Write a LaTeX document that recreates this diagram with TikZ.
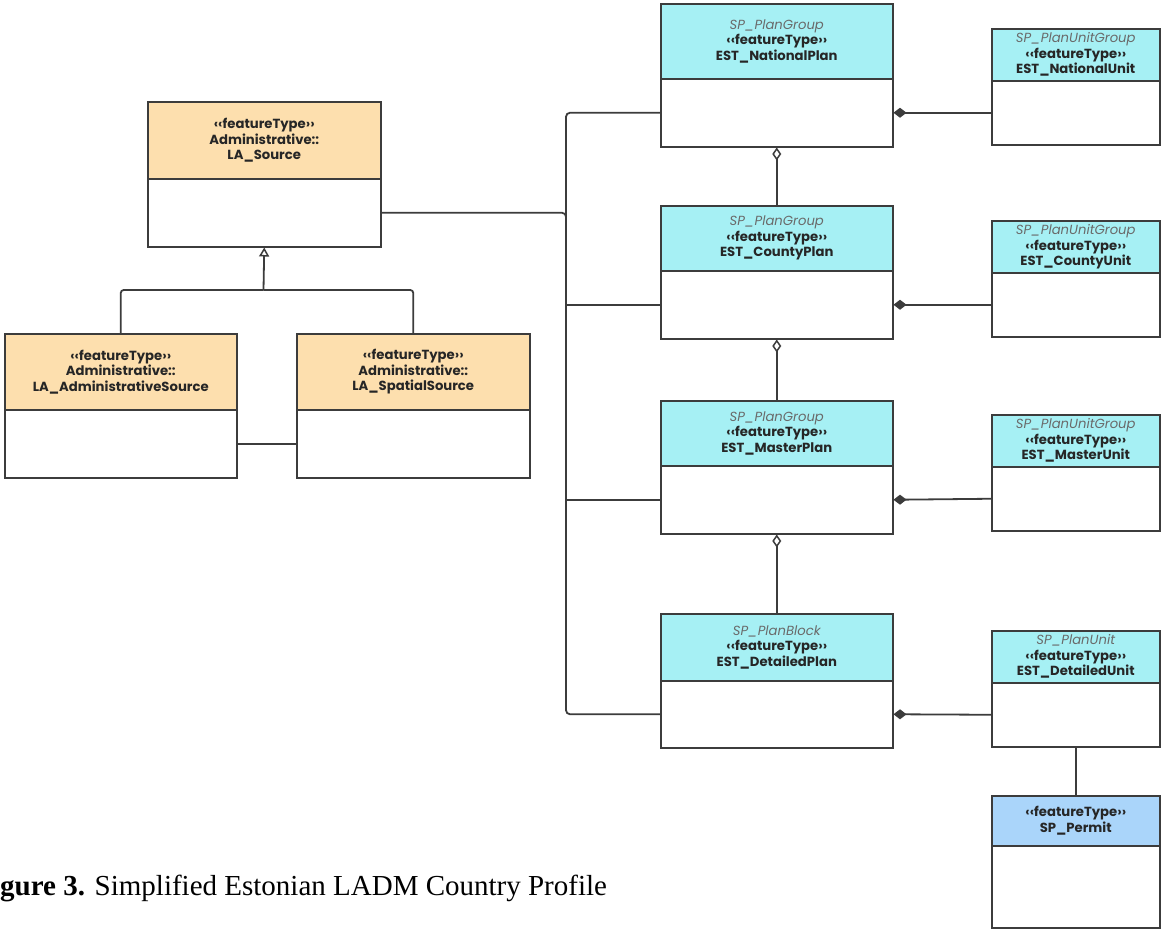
\documentclass[tikz,border=0pt]{standalone}
\usepackage{fontspec}
\setmainfont{Poppins}
\newfontfamily\captfont{Liberation Serif}
\usetikzlibrary{arrows.meta,calc}
\definecolor{linec}{HTML}{3C3C3C}
\definecolor{orangeh}{HTML}{FDDFAE}
\definecolor{cyanh}{HTML}{A6F0F4}
\definecolor{blueh}{HTML}{AAD5FA}
\definecolor{stereo}{HTML}{6A6A6A}
\newcommand{\umlfont}{\fontsize{13.2}{15.5}\selectfont\bfseries\color{black!85}}
\newcommand{\ster}[1]{{\mdseries\itshape\color{stereo}#1}}
\newcommand{\ft}{‹‹featureType››}
\newcommand{\umlbox}[8]{%
  \node[hdr, fill=#7, minimum width={(#5-#2)*1pt}, minimum height={(#4-#3)*1pt}, anchor=north west] (#1-h) at (#2,#3) {#8};
  \node[bdy, minimum width={(#5-#2)*1pt}, minimum height={(#6-#4)*1pt}, anchor=north west] (#1-b) at (#2,#4) {};
}
\tikzset{
  hdr/.style={draw=linec, line width=1.5pt, inner sep=0pt, align=center, font=\umlfont},
  bdy/.style={draw=linec, line width=1.5pt, fill=white, inner sep=0pt},
  conn/.style={draw=linec, line width=1.8pt},
  gen/.style={conn, -{Triangle[open, length=9pt, width=10pt, line width=1.5pt]}},
  agg/.style={conn, {Diamond[open, length=13pt, width=9pt, line width=1.5pt]}-},
  comp/.style={conn, {Diamond[length=13pt, width=10pt]}-},
}
\begin{document}
\begin{tikzpicture}[x=1pt, y=-1pt]
\useasboundingbox (0,0) rectangle (1161,929);
\fill[white] (0,0) rectangle (1161,929);
% left classes
\umlbox{src}{147}{101}{178}{380}{246}{orangeh}{\ft\\Administrative::\\LA\_Source}
\umlbox{adm}{4}{333}{409}{236}{477}{orangeh}{\ft\\Administrative::\\LA\_AdministrativeSource}
\umlbox{sps}{296}{333}{409}{529}{477}{orangeh}{\ft\\Administrative::\\LA\_SpatialSource}
% plans
\umlbox{nat}{660}{3}{78}{892}{146}{cyanh}{\ster{SP\_PlanGroup}\\\ft\\EST\_NationalPlan}
\umlbox{cty}{660}{205}{270}{892}{338}{cyanh}{\ster{SP\_PlanGroup}\\\ft\\EST\_CountyPlan}
\umlbox{mst}{660}{400}{465}{892}{533}{cyanh}{\ster{SP\_PlanGroup}\\\ft\\EST\_MasterPlan}
\umlbox{det}{660}{613}{680}{892}{747}{cyanh}{\ster{SP\_PlanBlock}\\\ft\\EST\_DetailedPlan}
% units
\umlbox{natu}{991}{28}{80}{1159}{144}{cyanh}{\ster{SP\_PlanUnitGroup}\\\ft\\EST\_NationalUnit}
\umlbox{ctyu}{991}{220}{272}{1159}{336}{cyanh}{\ster{SP\_PlanUnitGroup}\\\ft\\EST\_CountyUnit}
\umlbox{mstu}{991}{414}{466}{1159}{530}{cyanh}{\ster{SP\_PlanUnitGroup}\\\ft\\EST\_MasterUnit}
\umlbox{detu}{991}{630}{682}{1159}{746}{cyanh}{\ster{SP\_PlanUnit}\\\ft\\EST\_DetailedUnit}
\umlbox{perm}{991}{795}{845}{1159}{927}{blueh}{\ft\\SP\_Permit}
% generalization
\coordinate (gj) at (263.5,290);
\coordinate (sp) at (566,0);
\draw[conn, rounded corners=3pt] (adm-h.north) |- (gj);
\draw[conn, rounded corners=3pt] (sps-h.north) |- (gj);
\draw[gen] (gj) -- (src-b.south);
\draw[conn] (adm-b) -- (sps-b);
% spine
\draw[conn, rounded corners=4pt] (nat-b.west) -- (nat-b.west -| sp) -- (det-b.west -| sp) -- (det-b.west);
\draw[conn, rounded corners=4pt] (src-b.east) -- (src-b.east -| sp) -- ($(src-b.east -| sp)+(0,20)$);
\draw[conn] (cty-b.west) -- (cty-b.west -| sp);
\draw[conn] (mst-b.west) -- (mst-b.west -| sp);
% aggregations
\draw[agg] (nat-b.south) -- (cty-h.north);
\draw[agg] (cty-b.south) -- (mst-h.north);
\draw[agg] (mst-b.south) -- (det-h.north);
% compositions
\draw[comp] (nat-b.east) -- (natu-b.west);
\draw[comp] (cty-b.east) -- (ctyu-b.west);
\draw[comp] (mst-b.east) -- (mstu-b.west);
\draw[comp] (det-b.east) -- (detu-b.west);
\draw[conn] (detu-b.south) -- (perm-h.north);
% caption
\node[anchor=base west, inner sep=0pt, font=\captfont\fontsize{29}{33}\selectfont] (cap) at (0,895) {\textbf{gure 3.} Simplified Estonian LADM Country Profile};
\end{tikzpicture}
\end{document}
